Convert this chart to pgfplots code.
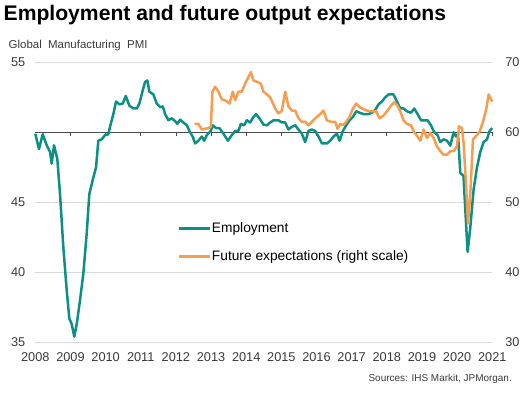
\documentclass[border=0pt]{standalone}
\usepackage{fontspec}
\setmainfont{Liberation Sans}
\usepackage{pgfplots}
\pgfplotsset{compat=1.18}
\definecolor{empteal}{HTML}{0C8F84}
\definecolor{exporange}{HTML}{F89C4F}
\definecolor{tickgray}{HTML}{3A3A3A}
\definecolor{gridgray}{HTML}{D9D9D9}

\pgfplotsset{
  commonax/.style={
    scale only axis, width=457bp, height=280bp,
    at={(35.3bp,53.7bp)}, anchor=south west,
    xmin=2008, xmax=2021,
    axis line style={draw=none}, major tick length=0pt,
    tick style={draw=none},
    ticklabel style={font=\fontsize{12.8}{15}\selectfont, text=tickgray},
    /pgf/number format/assume math mode=true,
    /pgf/number format/1000 sep={},
    clip=false,
  }
}

\begin{document}
\begin{tikzpicture}
\path (0bp,0bp) rectangle (531bp,396bp);
\node[anchor=base west, inner sep=0pt, font=\fontsize{21.2}{24}\selectfont\bfseries] at (3.5bp,375.3bp) {Employment and future output expectations};
\node[anchor=base west, inner sep=0pt, font=\fontsize{11.5}{13}\selectfont, text=tickgray] at (8.5bp,347bp) {Global\ \ Manufacturing\ \ PMI};
\node[anchor=base east, inner sep=0pt, font=\fontsize{10}{12}\selectfont, text=tickgray] at (512bp,15bp) {Sources: IHS Markit, JPMorgan.};

\begin{axis}[commonax,
  ymin=35, ymax=55, ytick={35,40,45,55},
  ymajorgrids, grid style={draw=gridgray, line width=0.9bp},
  xtick={2008,2009,...,2021},
  xticklabel shift=6.5bp,
  yticklabel shift=6.5bp,
]
\draw[black!70, line width=0.9bp] (axis cs:2008,50) -- (axis cs:2021,50);
\pgfplotsinvokeforeach{2009,2010,2011,2012,2013,2014,2015,2016,2017,2018,2019,2020,2021}{
  \draw[black!70, line width=0.8bp] (axis cs:#1,50) -- ++(0pt,-4bp);
}
\addplot[empteal, line width=2.5bp, line join=round] table {
2008.000 49.9
2008.105 48.8
2008.211 49.86
2008.325 49.07
2008.418 48.6
2008.467 47.76
2008.532 49.07
2008.626 48.1
2008.703 45.6
2008.797 41.8
2008.894 38.7
2008.968 36.7
2009.036 36.3
2009.110 35.4
2009.178 36.3
2009.272 38.0
2009.366 39.9
2009.463 42.8
2009.537 45.6
2009.634 46.6
2009.728 47.5
2009.793 49.4
2009.890 49.5
2009.984 49.8
2010.078 49.86
2010.126 50.4
2010.220 51.3
2010.297 52.2
2010.391 52.0
2010.488 52.05
2010.573 52.6
2010.676 51.9
2010.790 51.7
2010.886 51.7
2010.960 52.05
2011.057 53.0
2011.123 53.6
2011.188 53.7
2011.245 52.9
2011.359 52.7
2011.456 52.05
2011.550 51.8
2011.627 51.85
2011.692 51.3
2011.786 50.86
2011.883 51.0
2011.977 50.8
2012.042 50.6
2012.119 50.9
2012.213 50.7
2012.310 50.5
2012.384 50.1
2012.481 49.67
2012.546 49.2
2012.640 49.4
2012.737 49.7
2012.802 49.4
2012.879 49.8
2012.993 50.1
2013.050 50.5
2013.144 50.3
2013.238 50.3
2013.352 49.9
2013.477 49.4
2013.591 49.8
2013.685 50.1
2013.779 50.1
2013.847 50.6
2013.941 50.5
2014.018 50.86
2014.112 50.7
2014.206 51.1
2014.282 51.3
2014.376 51.0
2014.490 50.55
2014.587 50.5
2014.681 50.7
2014.775 50.86
2014.917 50.86
2015.014 50.7
2015.108 50.7
2015.202 50.2
2015.299 50.4
2015.393 50.5
2015.486 50.2
2015.583 49.9
2015.677 49.3
2015.771 50.1
2015.868 50.2
2015.962 50.1
2016.056 49.7
2016.153 49.2
2016.295 49.2
2016.389 49.4
2016.483 49.7
2016.580 49.9
2016.654 49.4
2016.750 50.1
2016.844 50.5
2016.938 50.86
2017.035 51.1
2017.129 51.5
2017.223 51.4
2017.337 51.3
2017.479 51.3
2017.576 51.4
2017.670 51.6
2017.764 52.0
2017.861 52.2
2017.955 52.5
2018.048 52.7
2018.191 52.7
2018.287 52.2
2018.381 51.7
2018.475 51.7
2018.572 51.5
2018.686 51.4
2018.780 51.7
2018.874 51.3
2018.971 50.86
2019.065 50.86
2019.158 50.86
2019.255 50.5
2019.349 50.0
2019.443 49.8
2019.520 49.3
2019.614 49.5
2019.711 49.4
2019.805 49.05
2019.899 50.0
2019.967 49.7
2020.024 49.9
2020.089 47.1
2020.180 46.9
2020.297 41.45
2020.374 43.2
2020.468 45.9
2020.565 47.5
2020.659 48.6
2020.753 49.3
2020.849 49.5
2020.923 50.1
2021.000 50.3
};
\end{axis}

\begin{axis}[commonax,
  ymin=30, ymax=70, ytick={30,40,50,60,70},
  yticklabel pos=right,
  xtick=\empty,
  yticklabel shift=9.5bp,
  legend style={at={(0.31,0.432)}, anchor=north west, draw=none, fill=none,
    font=\fontsize{13.8}{16}\selectfont, text=black, row sep=15bp,
    inner sep=0pt, nodes={inner sep=1bp}},
  legend cell align=left,
  legend image code/.code={\draw[#1, line width=2.8bp] (0bp,0bp) -- (31bp,0bp);},
]
\addlegendimage{empteal, line width=2.5bp}
\addlegendentry{Employment}
\addplot[exporange, line width=2.5bp, line join=round] table {
2012.526 61.2
2012.640 61.2
2012.737 60.4
2012.831 60.5
2012.925 60.6
2012.993 60.8
2013.038 65.8
2013.115 66.5
2013.209 65.8
2013.306 64.7
2013.428 64.5
2013.522 64.1
2013.619 65.8
2013.685 64.6
2013.779 65.8
2013.875 65.8
2013.969 66.95
2014.063 67.9
2014.132 68.6
2014.206 67.4
2014.319 67.2
2014.416 66.95
2014.490 65.8
2014.587 65.4
2014.681 65.0
2014.823 63.4
2014.917 62.7
2015.014 63.1
2015.108 65.8
2015.202 63.7
2015.299 63.1
2015.393 63.1
2015.486 62.0
2015.583 61.5
2015.677 61.5
2015.771 61.0
2015.868 61.5
2015.962 62.0
2016.056 62.4
2016.198 63.1
2016.295 61.7
2016.409 61.5
2016.532 61.5
2016.597 60.5
2016.674 61.2
2016.750 61.0
2016.844 61.5
2016.938 62.2
2017.035 63.4
2017.129 64.1
2017.223 63.6
2017.337 63.3
2017.434 63.1
2017.576 63.0
2017.698 63.0
2017.792 62.0
2017.906 62.4
2018.020 63.1
2018.117 63.8
2018.211 64.3
2018.305 63.8
2018.381 63.0
2018.475 61.7
2018.572 61.2
2018.686 61.0
2018.780 60.0
2018.857 59.5
2018.951 58.8
2019.045 60.4
2019.141 59.2
2019.235 59.9
2019.329 59.2
2019.426 58.0
2019.520 57.3
2019.614 56.8
2019.711 56.8
2019.805 57.3
2019.899 57.3
2019.995 58.0
2020.052 60.85
2020.137 60.6
2020.183 58.5
2020.251 52.7
2020.308 47.0
2020.374 51.2
2020.451 59.0
2020.545 59.5
2020.639 60.1
2020.735 61.5
2020.830 63.4
2020.896 65.4
2020.944 64.9
2021.000 64.4
};
\addlegendentry{Future expectations (right scale)}
\end{axis}
\end{tikzpicture}
\end{document}
